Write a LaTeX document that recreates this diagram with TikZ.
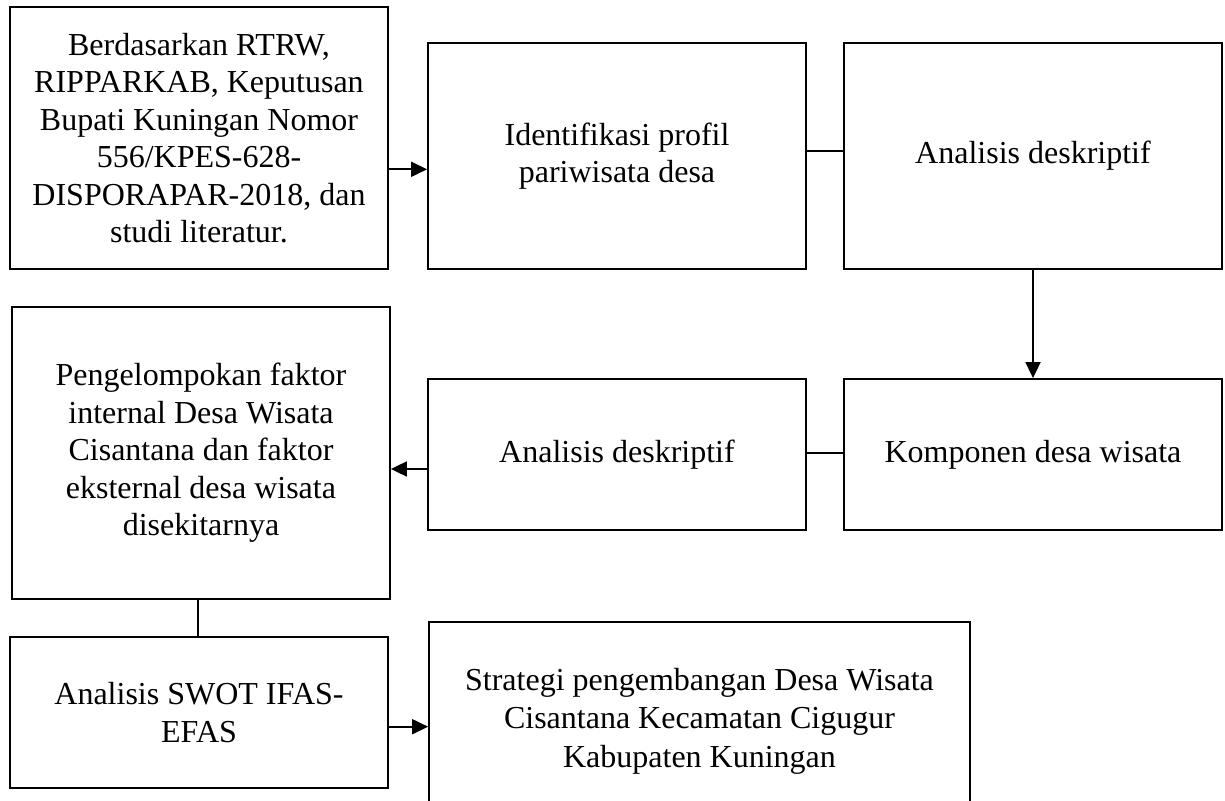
\documentclass[tikz,border=0pt]{standalone}
\usepackage{fontspec}
\setmainfont{Liberation Serif}
\usetikzlibrary{arrows.meta}
\begin{document}
\begin{tikzpicture}[x=0.5pt,y=-0.5pt,
  box/.style={draw=black, line width=0.9pt, rectangle, inner sep=0pt, align=center},
  toptext/.style={font=\fontsize{16pt}{18.75pt}\selectfont},
  ln/.style={draw=black, line width=0.9pt},
  arr/.style={ln, -{Triangle[length=8pt,width=7.5pt]}}]
\useasboundingbox (0,0) rectangle (1225,801);
\fill[white] (0,0) rectangle (1225,801);
\clip (0,0) rectangle (1225,801);

\node[box, toptext, minimum width=189pt, minimum height=131pt] (A) at (199,138)
  {Berdasarkan RTRW,\\ RIPPARKAB, Keputusan\\ Bupati Kuningan Nomor\\ 556/KPES-628-\\ DISPORAPAR-2018, dan\\ studi literatur.};
\node[box, toptext, minimum width=189pt, minimum height=113pt] (B) at (617,156)
  {Identifikasi profil\\ pariwisata desa};
\node[box, toptext, minimum width=189pt, minimum height=113pt] (C) at (1033,156)
  {Analisis deskriptif};
\node[box, toptext, minimum width=189pt, minimum height=75.5pt] (D) at (1033,454.5)
  {Komponen desa wisata};
\node[box, toptext, minimum width=189pt, minimum height=75.5pt] (E) at (617,454.5)
  {Analisis deskriptif};
\node[box, toptext, minimum width=189pt, minimum height=146pt] (F) at (201,453)
  {Pengelompokan faktor\\ internal Desa Wisata\\ Cisantana dan faktor\\ eksternal desa wisata\\ disekitarnya};
\node[box, toptext, minimum width=189pt, minimum height=75.5pt] (G) at (199,712.5)
  {Analisis SWOT IFAS-\\ EFAS};
\node[box, minimum width=270.5pt, minimum height=99pt,
  font=\fontsize{16pt}{19.3pt}\selectfont] (H) at (699.5,721)
  {Strategi pengembangan Desa Wisata\\ Cisantana Kecamatan Cigugur\\ Kabupaten Kuningan};

\coordinate (ab) at (0,169.3);
\coordinate (bc) at (0,151);
\coordinate (ed) at (0,453);
\coordinate (ef) at (0,469);
\coordinate (fg) at (198,0);
\coordinate (gh) at (0,726.7);

\draw[arr] (A.east |- ab) -- (B.west |- ab);
\draw[ln] (B.east |- bc) -- (C.west |- bc);
\draw[arr] (C.south) -- (D.north);
\draw[ln] (E.east |- ed) -- (D.west |- ed);
\draw[arr] (E.west |- ef) -- (F.east |- ef);
\draw[ln] (fg |- F.south) -- (fg |- G.north);
\draw[arr] (G.east |- gh) -- (H.west |- gh);
\end{tikzpicture}
\end{document}
